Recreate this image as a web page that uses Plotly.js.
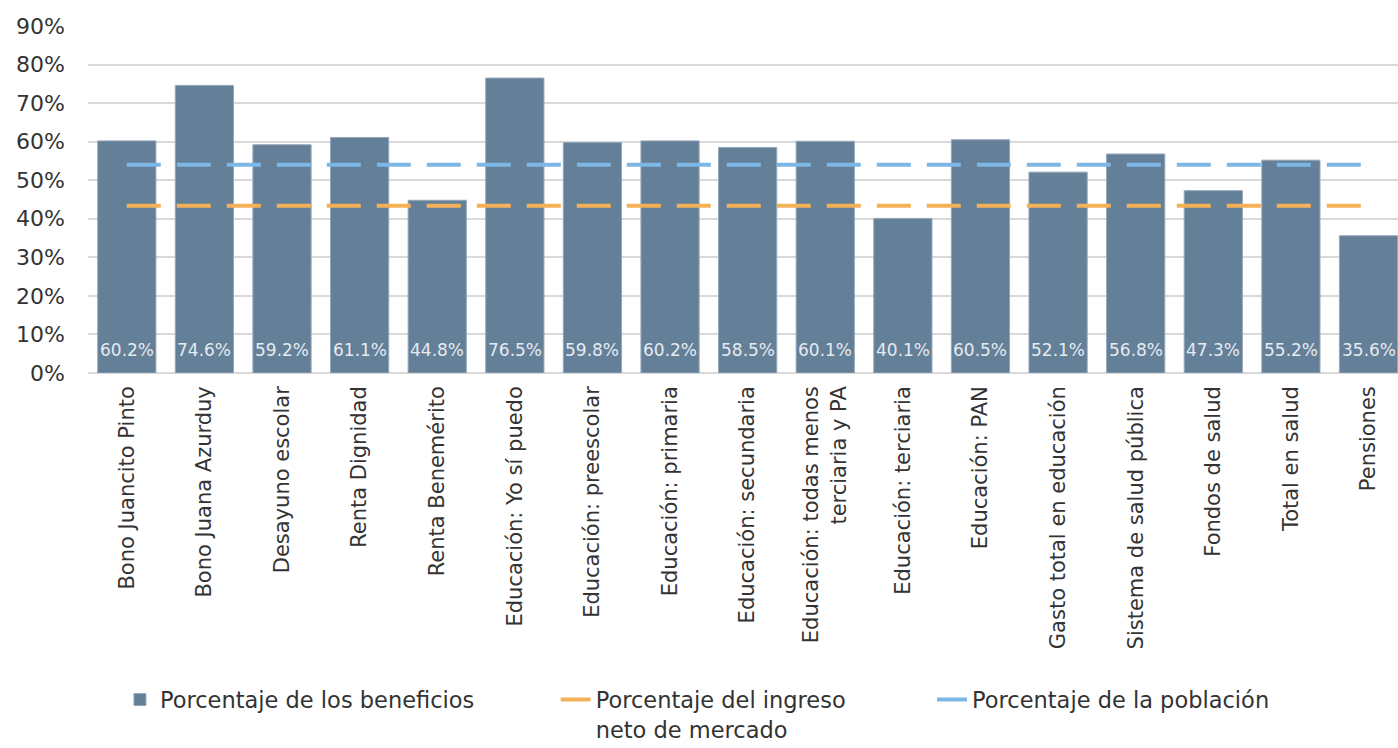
<!DOCTYPE html>
<html>
<head>
<meta charset="utf-8">
<script src="https://cdn.plot.ly/plotly-3.0.1.min.js"></script>
<style>html,body{margin:0;padding:0;background:#fff;}#chart{width:1398px;height:748px;}</style>
</head>
<body>
<div id="chart"></div>
<script>
const categories = [
  "Bono Juancito Pinto",
  "Bono Juana Azurduy",
  "Desayuno escolar",
  "Renta Dignidad",
  "Renta Benemérito",
  "Educación: Yo sí puedo",
  "Educación: preescolar",
  "Educación: primaria",
  "Educación: secundaria",
  "Educación: todas menos<br>terciaria y PA",
  "Educación: terciaria",
  "Educación: PAN",
  "Gasto total en educación",
  "Sistema de salud pública",
  "Fondos de salud",
  "Total en salud",
  "Pensiones"
];
const beneficios = [60.2, 74.6, 59.2, 61.1, 44.8, 76.5, 59.8, 60.2, 58.5, 60.1, 40.1, 60.5, 52.1, 56.8, 47.3, 55.2, 35.6];
const ingresoNeto = [43.4, 43.4, 43.4, 43.4, 43.4, 43.4, 43.4, 43.4, 43.4, 43.4, 43.4, 43.4, 43.4, 43.4, 43.4, 43.4, 43.4];
const poblacion = [54.0, 54.0, 54.0, 54.0, 54.0, 54.0, 54.0, 54.0, 54.0, 54.0, 54.0, 54.0, 54.0, 54.0, 54.0, 54.0, 54.0];
const yTickVals = [0, 10, 20, 30, 40, 50, 60, 70, 80, 90];
const yTickText = ["0%", "10%", "20%", "30%", "40%", "50%", "60%", "70%", "80%", "90%"];
const seriesNames = ["Porcentaje de los beneficios", "Porcentaje del ingreso<br>neto de mercado", "Porcentaje de la población"];

const FONT = "DejaVu Sans, sans-serif";
const traces = [
  {
    type: "bar", name: seriesNames[0], x: categories, y: beneficios,
    marker: {color: "#647f98", line: {color: "#94a7ba", width: 1}},
    hoverinfo: "x+y", legend: "legend"
  },
  {
    type: "scatter", mode: "lines", name: seriesNames[1], x: categories, y: ingresoNeto,
    line: {color: "#f5b158", width: 4, dash: "34px,16px"}, legend: "legend2"
  },
  {
    type: "scatter", mode: "lines", name: seriesNames[2], x: categories, y: poblacion,
    line: {color: "#7db7e6", width: 4, dash: "34px,16px"}, legend: "legend3"
  }
];

const annotations = categories.map((c, i) => ({
  x: c, y: 0, xref: "x", yref: "y", yanchor: "middle", yshift: 23,
  text: beneficios[i].toFixed(1) + "%", showarrow: false,
  font: {family: FONT, size: 17, color: "#e6ebf0"}
}));

function legendAt(x) {
  return {
    orientation: "h", x: x, xanchor: "left", xref: "paper",
    yref: "container", y: 0.093, yanchor: "top",
    font: {family: FONT, size: 22.5, color: "#333"},
    valign: "top", bgcolor: "rgba(0,0,0,0)"
  };
}

const layout = {
  width: 1398, height: 748,
  margin: {l: 88, r: 0, t: 26, b: 375, pad: 0, autoexpand: false},
  paper_bgcolor: "#fff", plot_bgcolor: "#fff",
  font: {family: FONT, color: "#333"},
  bargap: 0.25,
  showlegend: true,
  legend: legendAt(0.0244),
  legend2: legendAt(0.357),
  legend3: legendAt(0.6443),
  xaxis: {
    type: "category", range: [-0.5, 16.38], automargin: false,
    tickangle: -90, tickfont: {family: FONT, size: 21, color: "#333"},
    showgrid: false, showline: false, zeroline: false, ticks: "",
    ticklabelstandoff: 8, fixedrange: true
  },
  yaxis: {
    range: [0, 90], tickvals: yTickVals, ticktext: yTickText, automargin: false,
    tickfont: {family: FONT, size: 22, color: "#333"},
    showgrid: true, gridcolor: "#d9d9d9", gridwidth: 2,
    zeroline: true, zerolinecolor: "#d9d9d9", zerolinewidth: 2,
    showline: false, ticks: "", ticklabelstandoff: 22, fixedrange: true
  },
  annotations: annotations
};

Plotly.newPlot("chart", traces, layout, {displayModeBar: false, staticPlot: true});
</script>
</body>
</html>
